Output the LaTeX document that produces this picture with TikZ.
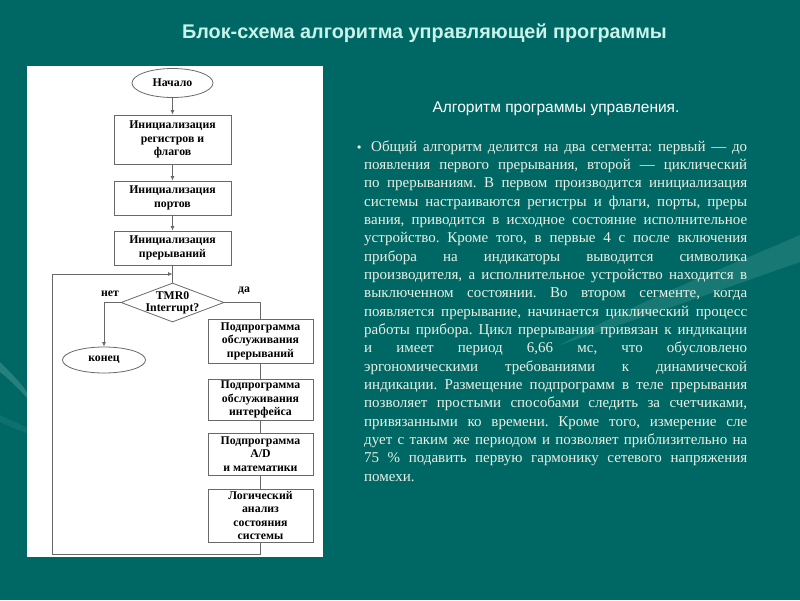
\documentclass[tikz,border=0pt]{standalone}
\usepackage{fontspec}
\setmainfont{Liberation Serif}
\newfontfamily\headfont{Liberation Sans}
\newfontfamily\fcfont{Liberation Serif}
\usetikzlibrary{shapes.geometric,arrows.meta}
\definecolor{bg}{RGB}{0,104,100}
\definecolor{swoosh}{RGB}{70,150,145}
\definecolor{titlec}{RGB}{200,242,234}
\definecolor{bodyc}{RGB}{234,240,230}
\definecolor{linec}{RGB}{105,105,105}
\frenchspacing
\begin{document}
\begin{tikzpicture}[x=1pt,y=-1pt,
  fcbox/.style={draw=linec, line width=0.8pt, fill=white, align=center, inner sep=0.5pt,
    font=\fcfont\bfseries\fontsize{11.8}{13.5}\selectfont},
  fcell/.style={fcbox, ellipse},
  fcdia/.style={fcbox, diamond, inner sep=0pt},
  conn/.style={draw=linec, line width=0.8pt},
  arr/.style={conn, -{Latex[length=4.5pt,width=4pt]}},
  lab/.style={font=\fcfont\bfseries\fontsize{11.8}{12}\selectfont, inner sep=0pt, align=center},
  bodyline/.style={anchor=base west, inner sep=0pt, text=bodyc, font=\fontsize{15}{18}\selectfont}
]
% background
\fill[bg] (0,0) rectangle (800,600);
\path[use as bounding box] (0,0) rectangle (800,600);
% decorative swooshes
\fill[swoosh, opacity=0.35] (560,345) .. controls (640,300) and (720,270) .. (800,235)
  -- (800,262) .. controls (720,290) and (650,315) .. (560,345) -- cycle;
\fill[swoosh, opacity=0.55] (0,362) .. controls (10,372) and (20,382) .. (27,392)
  -- (27,398) .. controls (18,388) and (8,378) .. (0,372) -- cycle;
\fill[swoosh, opacity=0.2] (0,415) .. controls (10,420) and (20,424) .. (27,428)
  -- (27,433) .. controls (18,430) and (8,426) .. (0,422) -- cycle;

% title
\node[font=\headfont\bfseries\fontsize{19.8}{22}\selectfont, text=titlec, inner sep=0pt] (title) at (424.5,33) {Блок-схема алгоритма управляющей программы};

% white panel
\fill[white] (27,66) rectangle (323,557);

% flowchart
\node[fcell, minimum width=81pt, minimum height=29pt] (start) at (172.5,83) {Начало};
\node[fcbox, minimum width=117pt, minimum height=49pt] (b1) at (172.5,139.5) {Инициализация\\регистров и\\флагов};
\node[fcbox, minimum width=117pt, minimum height=34pt] (b2) at (172.5,198) {Инициализация\\портов};
\node[fcbox, minimum width=117pt, minimum height=34pt] (b3) at (172.5,248) {Инициализация\\прерываний};
\node[fcdia, minimum width=103pt, minimum height=39pt] (dec) at (172.5,302.5) {};
\node[lab] (dectext) at (172.5,303) {TMR0\\Interrupt?};
\node[fcell, minimum width=83pt, minimum height=26pt] (end) at (104,360) {конец};
\node[fcbox, minimum width=105pt, minimum height=44pt] (s1) at (260.5,341) {Подпрограмма\\обслуживания\\прерываний};
\node[fcbox, minimum width=105pt, minimum height=41pt] (s2) at (260.5,399.5) {Подпрограмма\\обслуживания\\интерфейса};
\node[fcbox, minimum width=105pt, minimum height=42pt] (s3) at (260.5,454) {Подпрограмма\\A/D\\и математики};
\node[fcbox, minimum width=105pt, minimum height=53pt] (s4) at (260.5,515.5) {Логический\\анализ\\состояния\\системы};
\node[lab] (no) at (110,294) {нет};
\node[lab] (yes) at (244,291) {да};

\coordinate (join) at (172.5,274);
\coordinate (lb) at (52,554);
\coordinate (lt) at (52,274);
\coordinate (rb) at (260.5,554);
\coordinate (nl) at (104,302.5);
\coordinate (yr) at (260.5,302.5);

\draw[arr] (start) -- (b1);
\draw[arr] (b1) -- (b2);
\draw[arr] (b2) -- (b3);
\draw[conn] (b3) -- (dec);
\draw[arr] (s4.south) -- (rb) -- (lb) -- (lt) -- (join);
\draw[arr] (dec.west) -- (nl) -- (end.north);
\draw[conn] (dec.east) -- (yr) -- (s1.north);
\draw[conn] (s1) -- (s2);
\draw[conn] (s2) -- (s3);
\draw[conn] (s3) -- (s4);

% right text
\node[font=\headfont\fontsize{15.5}{17}\selectfont, text=white, inner sep=0pt] (sub) at (556,109) {Алгоритм программы управления.};

\node[anchor=base west, inner sep=0pt, text=bodyc, font=\headfont\fontsize{12}{14}\selectfont] (bul) at (357,151) {•};
\node[bodyline] (l1) at (371,151) {\makebox[376pt][s]{Общий алгоритм делится на два сегмента: первый — до}};
\node[bodyline] (l2) at (364,169.33) {\makebox[383pt][s]{появления первого прерывания, второй — циклический}};
\node[bodyline] (l3) at (364,187.67) {\makebox[383pt][s]{по прерываниям. В первом производится инициализация}};
\node[bodyline] (l4) at (364,206) {\makebox[383pt][s]{системы настраиваются регистры и флаги, порты, преры}};
\node[bodyline] (l5) at (364,224.33) {\makebox[383pt][s]{вания, приводится в исходное состояние исполнительное}};
\node[bodyline] (l6) at (364,242.67) {\makebox[383pt][s]{устройство. Кроме того, в первые 4 с после включения}};
\node[bodyline] (l7) at (364,261) {\makebox[383pt][s]{прибора на индикаторы выводится символика}};
\node[bodyline] (l8) at (364,279.33) {\makebox[383pt][s]{производителя, а исполнительное устройство находится в}};
\node[bodyline] (l9) at (364,297.67) {\makebox[383pt][s]{выключенном состоянии. Во втором сегменте, когда}};
\node[bodyline] (l10) at (364,316) {\makebox[383pt][s]{появляется прерывание, начинается циклический процесс}};
\node[bodyline] (l11) at (364,334.33) {\makebox[383pt][s]{работы прибора. Цикл прерывания привязан к индикации}};
\node[bodyline] (l12) at (364,352.67) {\makebox[383pt][s]{и имеет период 6,66 мс, что обусловлено}};
\node[bodyline] (l13) at (364,371) {\makebox[383pt][s]{эргономическими требованиями к динамической}};
\node[bodyline] (l14) at (364,389.33) {\makebox[383pt][s]{индикации. Размещение подпрограмм в теле прерывания}};
\node[bodyline] (l15) at (364,407.67) {\makebox[383pt][s]{позволяет простыми способами следить за счетчиками,}};
\node[bodyline] (l16) at (364,426) {\makebox[383pt][s]{привязанными ко времени. Кроме того, измерение сле}};
\node[bodyline] (l17) at (364,444.33) {\makebox[383pt][s]{дует с таким же периодом и позволяет приблизительно на}};
\node[bodyline] (l18) at (364,462.67) {\makebox[383pt][s]{75 \% подавить первую гармонику сетевого напряжения}};
\node[bodyline] (l19) at (364,481) {помехи.};
\end{tikzpicture}
\end{document}
